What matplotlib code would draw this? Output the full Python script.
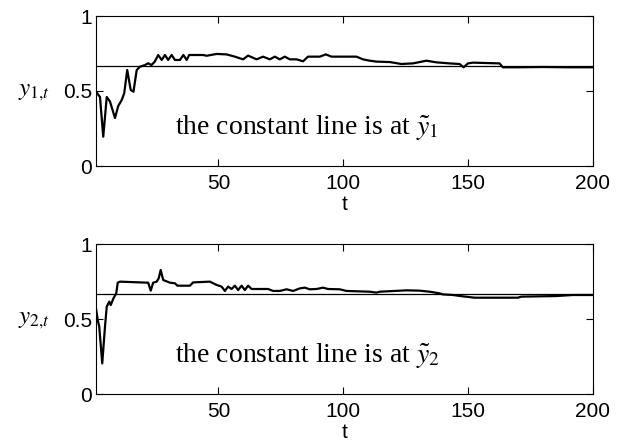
import matplotlib
matplotlib.use("Agg")
import matplotlib.pyplot as plt

plt.rcParams['mathtext.fontset'] = 'stix'
plt.rcParams['font.family'] = ['Liberation Sans', 'DejaVu Sans']

# ---- data ----
t1 = [1, 2.6, 3.9, 5.3, 6.6, 8.6, 9.9, 11.3, 12.3, 13.5, 14.9, 16, 17.3, 18.6,
      20.6, 21.9, 23.2, 24.5, 25.9, 27.3, 28.6, 29.9, 31.3, 32.6, 34.6, 36,
      37.3, 38.3, 43.9, 45.3, 49.3, 53.3, 56.6, 59.9, 61.9, 65.3, 67.9, 70.6,
      72.6, 74.6, 76.6, 78.6, 81.3, 83.9, 85.9, 90.6, 93, 95.3, 105.3, 107.9,
      110.6, 113.3, 118.6, 123.3, 127.9, 133.3, 137.3, 142.6, 146.6, 148.2,
      149.9, 151.9, 162.6, 163.9, 170, 180, 190, 200]
y1 = [0.495, 0.46, 0.195, 0.46, 0.43, 0.32, 0.40, 0.44, 0.485, 0.64, 0.507,
      0.495, 0.64, 0.662, 0.673, 0.685, 0.673, 0.695, 0.74, 0.707, 0.74, 0.707,
      0.74, 0.707, 0.707, 0.74, 0.707, 0.74, 0.74, 0.735, 0.747, 0.744, 0.729,
      0.711, 0.736, 0.711, 0.729, 0.711, 0.729, 0.711, 0.729, 0.711, 0.711,
      0.698, 0.729, 0.729, 0.744, 0.729, 0.729, 0.711, 0.702, 0.696, 0.693,
      0.680, 0.684, 0.702, 0.691, 0.684, 0.68, 0.658, 0.684, 0.689, 0.684,
      0.658, 0.658, 0.66, 0.658, 0.658]

t2 = [1, 1.7, 2.3, 3.5, 4.6, 5.3, 6.3, 6.9, 8, 9.1, 9.7, 10.6, 21.9, 22.9,
      23.9, 25.3, 26.1, 26.9, 27.9, 30.6, 32.6, 33.6, 38.6, 39.9, 46.6, 49.3,
      51.3, 52.6, 53.9, 55.3, 56.6, 57.9, 59.3, 60.6, 61.9, 63.3, 69.9, 71.9,
      74.6, 77.3, 79.9, 82.6, 84.6, 86.6, 89.3, 91.9, 93.9, 98.6, 101.3, 110.6,
      113.3, 114.6, 125.3, 130.6, 134.6, 138.6, 139.9, 143.9, 147.9, 152.6,
      169.9, 171.3, 185.3, 191.9, 200]
y2 = [0.571, 0.493, 0.449, 0.204, 0.449, 0.582, 0.616, 0.593, 0.638, 0.671,
      0.742, 0.749, 0.742, 0.689, 0.742, 0.749, 0.771, 0.827, 0.76, 0.742,
      0.738, 0.722, 0.722, 0.744, 0.749, 0.727, 0.716, 0.687, 0.716, 0.70,
      0.722, 0.693, 0.722, 0.693, 0.722, 0.70, 0.70, 0.687, 0.687, 0.698,
      0.687, 0.704, 0.709, 0.698, 0.70, 0.709, 0.70, 0.698, 0.687, 0.682,
      0.676, 0.682, 0.691, 0.689, 0.682, 0.671, 0.664, 0.66, 0.651, 0.642,
      0.642, 0.649, 0.653, 0.66, 0.66]

const_levels = [2/3, 2/3]
ylabels = [r'$y_{1{,}t}$', r'$y_{2{,}t}$']
notes = [r'the constant line is at $\tilde{y}_1$', r'the constant line is at $\tilde{y}_2$']
xticks = [50, 100, 150, 200]
yticks = [0, 0.5, 1]
ytick_labels = ['0', '0.5', '1']

fig = plt.figure(figsize=(6.28, 4.44), dpi=100)
W, H = 628, 444
boxes = [(96, 16, 593, 166), (96, 244, 593, 394)]
series = [(t1, y1), (t2, y2)]

for i, (l, tp, r, b) in enumerate(boxes):
    ax = fig.add_axes([l / W, 1 - b / H, (r - l) / W, (b - tp) / H])
    tt, yy = series[i]
    ax.plot(tt, yy, color='black', lw=1.6)
    ax.axhline(const_levels[i], color='black', lw=0.9)
    ax.set_xlim(1, 200)
    ax.set_ylim(0, 1)
    ax.set_xticks(xticks)
    ax.set_yticks(yticks)
    ax.set_yticklabels(ytick_labels)
    ax.tick_params(axis='x', direction='in', top=True, length=5, width=0.8,
                   labelsize=15, pad=6)
    ax.tick_params(axis='y', direction='in', right=True, length=5, width=0.8,
                   labelsize=15, pad=3)
    for s in ax.spines.values():
        s.set_linewidth(0.8)
    ax.set_xlabel('t', fontsize=15, labelpad=1)
    ax.text(-0.0926, 0.5, ylabels[i], transform=ax.transAxes, ha='right',
            va='center', fontsize=18)
    ax.text(32.5, 0.26, notes[i], ha='left', va='center', fontsize=20,
            family='Liberation Serif')

fig.savefig('out.png', dpi=100)
